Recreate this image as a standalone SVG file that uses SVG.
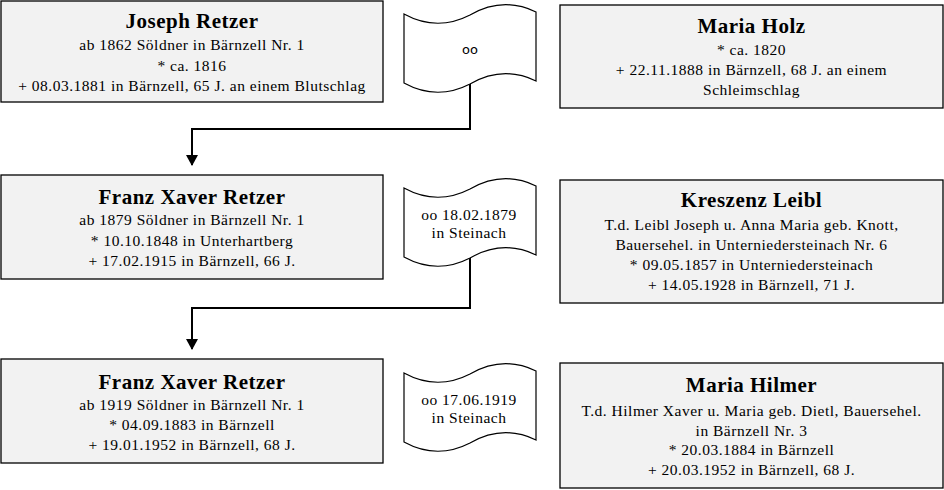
<svg xmlns="http://www.w3.org/2000/svg" width="944" height="490" viewBox="0 0 944 490">
<style>
.box{fill:#f2f2f2;stroke:#000;stroke-width:1.3}
.flag{fill:#fff;stroke:#000;stroke-width:1.2}
.t{font-family:"Liberation Serif","Times New Roman",serif;font-size:21px;font-weight:bold;letter-spacing:0.5px;text-anchor:middle;fill:#000}
.l{font-family:"Liberation Serif","Times New Roman",serif;font-size:15.5px;letter-spacing:0.5px;text-anchor:middle;fill:#000}
.s{font-family:"DejaVu Sans",sans-serif;font-size:13px;text-anchor:middle;fill:#000}
.c{fill:none;stroke:#000;stroke-width:2}
</style>
<defs>
<marker id="arr" markerUnits="userSpaceOnUse" markerWidth="12" markerHeight="14" refX="10" refY="6" orient="auto">
<path d="M0,0 L11,6 L0,12 Z" fill="#000"/>
</marker>
<path id="flagshape" d="M404,14 Q437,32 470,15 Q503,-4 536,12 L536,81 Q503,65 470,84 Q437,101 404,83 Z"/>
</defs>
<g id="connectors">
<path class="c" d="M470,84 V129 H192 V165" marker-end="url(#arr)"/>
<path class="c" d="M470,258 V308 H192 V349" marker-end="url(#arr)"/>
</g>
<g id="joseph">
<rect class="box" x="1" y="1" width="382" height="101"/>
<text class="t" x="192" y="28">Joseph Retzer</text>
<text class="l" x="192" y="50">ab 1862 Söldner in Bärnzell Nr. 1</text>
<text class="l" x="192" y="70.5">* ca. 1816</text>
<text class="l" x="192" y="91">+ 08.03.1881 in Bärnzell, 65 J. an einem Blutschlag</text>
</g>
<g id="marriage1">
<use href="#flagshape" class="flag"/>
<text class="s" x="470" y="54">oo</text>
</g>
<g id="maria-holz">
<rect class="box" x="560" y="5" width="383" height="103"/>
<text class="t" x="751.5" y="33">Maria Holz</text>
<text class="l" x="751.5" y="54.5">* ca. 1820</text>
<text class="l" x="751.5" y="74.5">+ 22.11.1888 in Bärnzell, 68 J. an einem</text>
<text class="l" x="751.5" y="94.5">Schleimschlag</text>
</g>
<g id="franz1">
<rect class="box" x="1" y="175" width="382" height="104"/>
<text class="t" x="192" y="204">Franz Xaver Retzer</text>
<text class="l" x="192" y="225">ab 1879 Söldner in Bärnzell Nr. 1</text>
<text class="l" x="192" y="245.5">* 10.10.1848 in Unterhartberg</text>
<text class="l" x="192" y="266">+ 17.02.1915 in Bärnzell, 66 J.</text>
</g>
<g id="marriage2">
<use href="#flagshape" class="flag" transform="translate(0,174)"/>
<text class="l" x="469" y="220">oo 18.02.1879</text>
<text class="l" x="469" y="238">in Steinach</text>
</g>
<g id="kreszenz">
<rect class="box" x="560" y="180" width="383" height="123"/>
<text class="t" x="751.5" y="207">Kreszenz Leibl</text>
<text class="l" x="751.5" y="230">T.d. Leibl Joseph u. Anna Maria geb. Knott,</text>
<text class="l" x="751.5" y="250">Bauersehel. in Unterniedersteinach Nr. 6</text>
<text class="l" x="751.5" y="270">* 09.05.1857 in Unterniedersteinach</text>
<text class="l" x="751.5" y="289.5">+ 14.05.1928 in Bärnzell, 71 J.</text>
</g>
<g id="franz2">
<rect class="box" x="1" y="359" width="382" height="104"/>
<text class="t" x="192" y="389">Franz Xaver Retzer</text>
<text class="l" x="192" y="410">ab 1919 Söldner in Bärnzell Nr. 1</text>
<text class="l" x="192" y="430">* 04.09.1883 in Bärnzell</text>
<text class="l" x="192" y="450">+ 19.01.1952 in Bärnzell, 68 J.</text>
</g>
<g id="marriage3">
<use href="#flagshape" class="flag" transform="translate(0,359)"/>
<text class="l" x="469" y="405">oo 17.06.1919</text>
<text class="l" x="469" y="423">in Steinach</text>
</g>
<g id="maria-hilmer">
<rect class="box" x="560" y="363" width="383" height="125"/>
<text class="t" x="751.5" y="392">Maria Hilmer</text>
<text class="l" x="751.5" y="416">T.d. Hilmer Xaver u. Maria geb. Dietl, Bauersehel.</text>
<text class="l" x="751.5" y="435.5">in Bärnzell Nr. 3</text>
<text class="l" x="751.5" y="455">* 20.03.1884 in Bärnzell</text>
<text class="l" x="751.5" y="474.5">+ 20.03.1952 in Bärnzell, 68 J.</text>
</g>
</svg>
